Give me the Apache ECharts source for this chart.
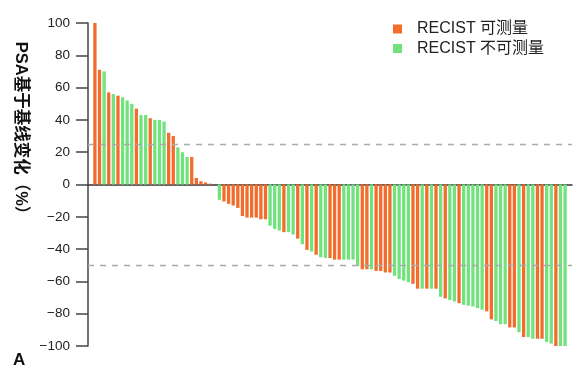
<!DOCTYPE html>
<html>
<head>
<meta charset="utf-8">
<script src="https://cdn.jsdelivr.net/npm/echarts@6/dist/echarts.min.js"></script>
<style>
html,body{margin:0;padding:0;background:#fff;}
#chart{width:582px;height:370px;}
</style>
</head>
<body>
<div id="chart"></div>
<script>
// PSA change from baseline (%) per patient, sorted (waterfall)
const psaChange = [
  100, 71, 70, 57, 56, 55, 54, 52, 50, 47,
  43, 43, 41, 40, 40, 39, 32, 30, 23, 20,
  17, 17, 4, 2, 1.3, 0.5, 0, -9.5, -10.5, -12,
  -13, -14.5, -19.5, -20.5, -20.5, -20.5, -21.5, -21.5, -25.5, -27.5,
  -28.5, -29.5, -29.5, -31, -33.5, -37, -40.5, -41.5, -43.5, -45,
  -45.5, -45.5, -46.5, -46.5, -46.5, -46.5, -46.5, -50.5, -52.5, -52.5,
  -52.5, -53.5, -53.5, -54.5, -54.5, -56.5, -58.5, -59.5, -60.5, -61.5,
  -64.5, -64.5, -64.5, -64.5, -64.5, -69.5, -70.5, -71.5, -72.5, -73.5,
  -74.5, -75, -75.5, -76.5, -77.5, -78.5, -83.5, -84.5, -86.5, -86.5,
  -88.5, -88.5, -91.5, -94.5, -94.5, -95.5, -95.5, -95.5, -97.5, -98.5,
  -100, -100, -100
];
// M = RECIST 可测量, N = RECIST 不可测量
const recistGroup = [
  'M','M','N','M','N','M','N','N','N','M',
  'N','N','M','N','N','N','M','M','N','N',
  'N','M','M','M','M','M','M','N','M','M',
  'M','M','M','M','M','M','M','M','N','N',
  'N','M','N','N','M','N','M','N','M','N',
  'N','M','M','M','N','N','N','N','M','M',
  'N','M','M','M','M','N','N','N','N','M',
  'M','N','M','N','M','N','M','N','N','M',
  'N','N','N','N','N','M','M','N','N','N',
  'M','M','N','M','N','N','M','M','N','N',
  'M','N','N'
];
const seriesNames = ['RECIST 可测量', 'RECIST 不可测量'];
const yTicks = { min: -100, max: 100, interval: 20 };
const refLines = [25, -50];

const FONT = "'Liberation Sans', 'Noto Sans CJK SC', Arial, sans-serif";
const ORANGE = '#F26C2B';
const GREEN = '#72E27F';

// one empty slot at each end of the category axis
const cats = ['']
  .concat(psaChange.map((_, i) => String(i + 1)))
  .concat(['']);
const measData = ['-'].concat(psaChange.map((v, i) => recistGroup[i] === 'M' ? v : '-')).concat(['-']);
const nonMeasData = ['-'].concat(psaChange.map((v, i) => recistGroup[i] === 'N' ? v : '-')).concat(['-']);

const chart = echarts.init(document.getElementById('chart'), null, { renderer: 'canvas' });
chart.setOption({
  animation: false,
  backgroundColor: '#fff',
  textStyle: { fontFamily: FONT },
  grid: { left: 88, right: 10, top: 23, bottom: 24, containLabel: false },
  legend: {
    orient: 'vertical',
    left: 388,
    top: 15,
    itemWidth: 9,
    itemHeight: 9,
    itemGap: 1.5,
    icon: 'rect',
    data: seriesNames,
    textStyle: { fontFamily: FONT, fontSize: 16, color: '#222', padding: [0, 0, 0, 10], lineHeight: 18 }
  },
  xAxis: {
    type: 'category',
    data: cats,
    boundaryGap: true,
    axisLine: { onZero: true, lineStyle: { color: '#333', width: 1.5 } },
    axisTick: { show: false },
    axisLabel: { show: false },
    splitLine: { show: false }
  },
  yAxis: {
    type: 'value',
    min: yTicks.min,
    max: yTicks.max,
    interval: yTicks.interval,
    axisLine: { show: true, lineStyle: { color: '#444', width: 1.5 } },
    axisTick: { show: true, length: 12, lineStyle: { color: '#444', width: 1.5 } },
    axisLabel: {
      margin: 18,
      fontSize: 13.5,
      color: '#222',
      fontFamily: FONT,
      formatter: v => String(v).replace('-', '\u2212')
    },
    splitLine: { show: false }
  },
  series: [
    {
      name: seriesNames[0],
      type: 'bar',
      data: measData,
      barWidth: 3.3,
      barGap: '-100%',
      itemStyle: { color: ORANGE },
      markLine: {
        silent: true,
        symbol: 'none',
        label: { show: false },
        lineStyle: { color: '#aaa', type: [6, 6], width: 1.3 },
        data: refLines.map(v => ({ yAxis: v }))
      }
    },
    {
      name: seriesNames[1],
      type: 'bar',
      data: nonMeasData,
      barWidth: 3.3,
      barGap: '-100%',
      itemStyle: { color: GREEN }
    }
  ],
  graphic: [
    {
      type: 'text',
      x: 21,
      y: 132,
      rotation: -Math.PI / 2,
      style: {
        text: 'PSA基于基线变化（%）',
        fontFamily: "'Liberation Sans', 'Noto Sans CJK SC', sans-serif",
        fontSize: 16.5,
        fontWeight: 'bold',
        fill: '#111',
        align: 'center',
        verticalAlign: 'middle'
      }
    },
    {
      type: 'text',
      x: 13,
      y: 352,
      style: {
        text: 'A',
        fontFamily: FONT,
        fontSize: 17,
        fontWeight: 'bold',
        fill: '#111'
      }
    }
  ]
});
</script>
</body>
</html>
